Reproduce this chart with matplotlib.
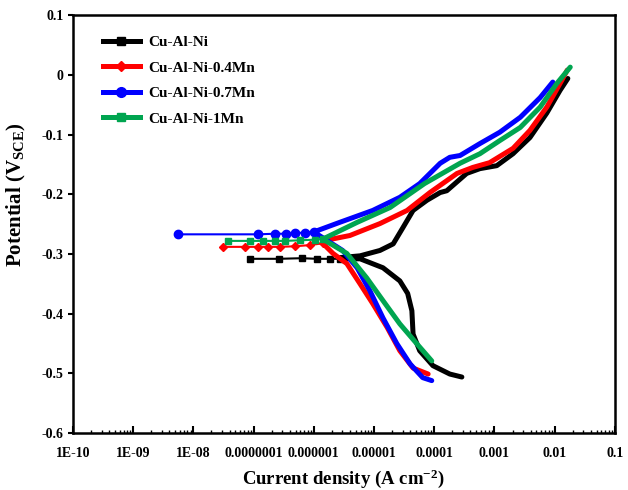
import numpy as np
import matplotlib
matplotlib.use("Agg")
import matplotlib.pyplot as plt
from matplotlib.ticker import FixedLocator, LogLocator, NullFormatter

plt.rcParams['font.family'] = ['Liberation Serif', 'DejaVu Serif']
plt.rcParams['font.weight'] = 'bold'
plt.rcParams['mathtext.fontset'] = 'custom'
plt.rcParams['mathtext.rm'] = 'Liberation Serif:bold'
plt.rcParams['mathtext.bf'] = 'Liberation Serif:bold'
plt.rcParams['mathtext.default'] = 'bf'

names = ["Cu-Al-Ni", "Cu-Al-Ni-0.4Mn", "Cu-Al-Ni-0.7Mn", "Cu-Al-Ni-1Mn"]
colors = ["#000000", "#ff0000", "#0000ff", "#00a550"]
markers = ["s", "D", "o", "s"]
msizes = [4.5, 4, 6, 4.5]

# log10 of current density (A cm-2) and potential (V vs SCE)
# flat part near Ecorr (sparse points, drawn with markers)
flat_logi = [
    [-7.06, -6.58, -6.20, -5.95, -5.73, -5.56],
    [-7.51, -7.14, -6.93, -6.76, -6.56, -6.31, -6.06, -5.85],
    [-8.26, -6.93, -6.64, -6.46, -6.31, -6.15, -6.00],
    [-7.43, -7.06, -6.84, -6.64, -6.48, -6.23, -5.98, -5.85],
]
flat_E = [
    [-0.308, -0.308, -0.307, -0.308, -0.308, -0.308],
    [-0.288, -0.288, -0.288, -0.288, -0.288, -0.287, -0.285, -0.282],
    [-0.267, -0.267, -0.266, -0.266, -0.265, -0.264, -0.263],
    [-0.278, -0.278, -0.278, -0.278, -0.278, -0.277, -0.276, -0.275],
]
# anodic branches
anod_logi = [
    [-5.56, -5.23, -4.90, -4.68, -4.52, -4.35, -4.12, -3.90, -3.79, -3.46, -3.24, -2.96, -2.69, -2.41, -2.13, -1.91, -1.78],
    [-5.85, -5.40, -4.90, -4.45, -4.07, -3.62, -3.36, -3.08, -2.69, -2.41, -2.13, -1.88, -1.79],
    [-6.00, -5.57, -5.02, -4.57, -4.24, -3.90, -3.74, -3.57, -3.24, -2.91, -2.57, -2.24, -2.03],
    [-5.85, -5.28, -4.73, -4.16, -3.57, -3.24, -2.91, -2.57, -2.24, -1.96, -1.74],
]
anod_E = [
    [-0.306, -0.303, -0.294, -0.283, -0.256, -0.227, -0.210, -0.197, -0.194, -0.165, -0.157, -0.152, -0.132, -0.105, -0.064, -0.026, -0.006],
    [-0.278, -0.269, -0.249, -0.227, -0.197, -0.165, -0.155, -0.147, -0.123, -0.093, -0.054, -0.009, 0.008],
    [-0.263, -0.247, -0.227, -0.205, -0.182, -0.148, -0.138, -0.135, -0.115, -0.096, -0.071, -0.038, -0.012],
    [-0.275, -0.247, -0.222, -0.182, -0.148, -0.132, -0.110, -0.088, -0.054, -0.014, 0.013],
]
# cathodic branches
cath_logi = [
    [-5.56, -5.23, -4.85, -4.57, -4.44, -4.37, -4.35, -4.24, -4.02, -3.74, -3.54],
    [-5.85, -5.68, -5.45, -5.23, -5.02, -4.78, -4.57, -4.35, -4.10],
    [-6.00, -5.52, -5.28, -5.07, -4.85, -4.62, -4.40, -4.19, -4.04],
    [-5.85, -5.45, -5.12, -4.85, -4.57, -4.29, -4.04],
]
cath_E = [
    [-0.308, -0.308, -0.323, -0.345, -0.366, -0.395, -0.434, -0.462, -0.487, -0.501, -0.506],
    [-0.282, -0.299, -0.316, -0.350, -0.383, -0.423, -0.462, -0.491, -0.501],
    [-0.263, -0.294, -0.323, -0.361, -0.407, -0.450, -0.484, -0.507, -0.512],
    [-0.275, -0.299, -0.340, -0.378, -0.417, -0.450, -0.479],
]

xticks = [1e-10, 1e-9, 1e-8, 1e-7, 1e-6, 1e-5, 1e-4, 1e-3, 1e-2, 1e-1]
xlabels = ["1E-10", "1E-09", "1E-08", "0.0000001", "0.000001", "0.00001", "0.0001", "0.001", "0.01", "0.1"]
yticks = [-0.6, -0.5, -0.4, -0.3, -0.2, -0.1, 0.0, 0.1]
ylabels = ["-0.6", "-0.5", "-0.4", "-0.3", "-0.2", "-0.1", "0", "0.1"]

fig = plt.figure(figsize=(6.28, 4.90), dpi=100)
ax = fig.add_axes([0.116, 0.116, 0.863, 0.853])

for k in range(4):
    xs = np.power(10.0, cath_logi[k][::-1] + anod_logi[k])
    ys = np.array(cath_E[k][::-1] + anod_E[k])
    ax.plot(xs, ys, color=colors[k], lw=3.6, solid_capstyle='round',
            solid_joinstyle='round', zorder=2 + k * 0.1)
    ax.plot(np.power(10.0, flat_logi[k]), flat_E[k], color=colors[k], lw=1.5,
            marker=markers[k], ms=msizes[k], zorder=2 + k * 0.1)
    ax.plot([], [], color=colors[k], lw=3.6, marker=markers[k], ms=msizes[k] + 1, label=names[k])

ax.set_xscale('log')
ax.set_xlim(1e-10, 0.1)
ax.set_ylim(-0.6, 0.1)
ax.xaxis.set_major_locator(FixedLocator(xticks))
ax.set_xticklabels(xlabels)
ax.xaxis.set_minor_locator(LogLocator(base=10, subs=np.arange(2, 10), numticks=20))
ax.xaxis.set_minor_formatter(NullFormatter())
ax.set_yticks(yticks)
ax.set_yticklabels(ylabels)
ax.tick_params(axis='x', which='major', direction='in', length=5, width=1.5,
               labelsize=10, pad=10)
ax.tick_params(axis='x', which='minor', direction='in', length=2.5, width=1.0)
ax.tick_params(axis='y', which='major', direction='out', length=3.5, width=1.5,
               labelsize=10, pad=3)
for s in ax.spines.values():
    s.set_linewidth(1.8)

ax.set_xlabel("Current density (A cm$^{-2}$)", fontsize=13.5, fontweight='bold')
ax.xaxis.set_label_coords(0.5, -0.082)
ax.set_ylabel("Potential (V$_{SCE}$)", fontsize=15, fontweight='bold')
ax.yaxis.set_label_coords(-0.082, 0.57)

leg = ax.legend(loc='upper left', bbox_to_anchor=(0.03, 0.985), frameon=False,
                fontsize=11, handlelength=2.4, handletextpad=0.6, labelspacing=0.78)
for t in leg.get_texts():
    t.set_fontweight('bold')

fig.savefig("out.png", dpi=100)
